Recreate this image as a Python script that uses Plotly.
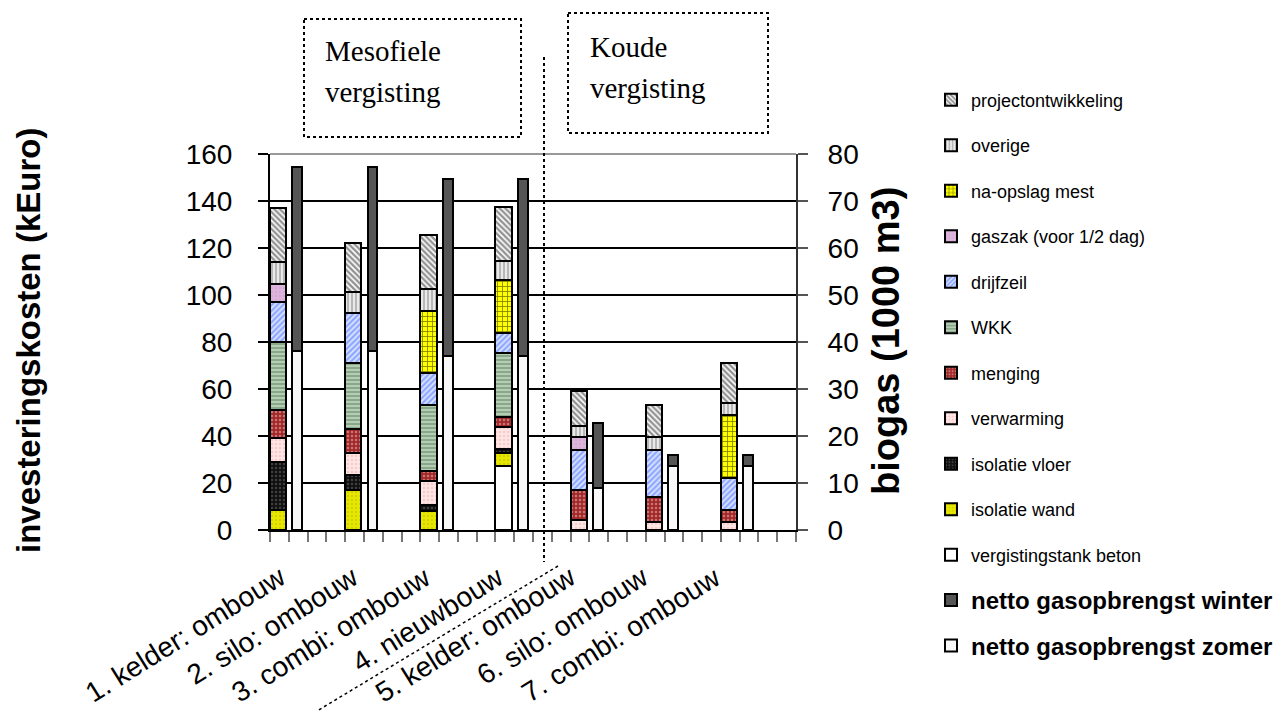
import plotly.graph_objects as go

# --- data -------------------------------------------------------------
groups = ["1. kelder: ombouw", "2. silo: ombouw", "3. combi: ombouw",
          "4. nieuwbouw", "5. kelder: ombouw", "6. silo: ombouw",
          "7. combi: ombouw"]

# investment cost components (kEuro), bottom to top of each stack
vergistingstank_beton = [0, 0, 0, 27.4, 0, 0, 0]
isolatie_wand = [8.5, 17.2, 8.0, 5.2, 0, 0, 0]
isolatie_vloer = [20.5, 6.2, 2.8, 1.9, 0, 0, 0]
verwarming = [10.2, 9.2, 9.9, 9.2, 4.3, 3.5, 3.5]
menging = [11.8, 10.4, 4.3, 4.2, 12.9, 10.7, 5.2]
wkk = [29.1, 27.9, 28.2, 27.3, 0, 0, 0]
drijfzeil = [17.0, 21.4, 13.5, 8.5, 17.0, 19.8, 13.6]
gaszak = [7.4, 0, 0, 0, 5.2, 0, 0]
na_opslag_mest = [0, 0, 26.3, 22.8, 0, 0, 26.6]
overige = [9.5, 8.8, 9.6, 7.8, 5.0, 5.4, 5.0]
projectontwikkeling = [23.1, 20.9, 22.9, 23.3, 14.6, 13.6, 17.0]

# net biogas yield (1000 m3), stacked: summer part + winter part
gas_zomer = [38.0, 38.0, 37.1, 37.1, 8.9, 13.7, 13.7]
gas_winter = [39.2, 39.2, 37.6, 37.6, 13.8, 2.3, 2.3]

cost_ticks = [0, 20, 40, 60, 80, 100, 120, 140, 160]
gas_ticks = [0, 10, 20, 30, 40, 50, 60, 70, 80]

# --- geometry ---------------------------------------------------------
W, H = 1286, 713
L, R, T, B = 270, 796, 154, 530          # plot area in pixels
n_slots = 28                              # 7 groups x 4 slots
cost_x = [1 + 4 * i for i in range(len(groups))]
gas_x = [2 + 4 * i for i in range(len(groups))]


def px(x):
    return (x - L) / (R - L)


def py(y):
    return (B - y) / (B - T)


def nz(vals):
    return [v if v else None for v in vals]


SANS = "Liberation Sans, Arial, sans-serif"

cost_series = [
    ("vergistingstank beton", vergistingstank_beton, dict(color="white")),
    ("isolatie wand", isolatie_wand,
     dict(color="#e4e400", pattern=dict(shape=".", fgcolor="#b0b000", bgcolor="#e6e600", size=4, solidity=0.2))),
    ("isolatie vloer", isolatie_vloer,
     dict(color="#151515", pattern=dict(shape=".", fgcolor="#707070", bgcolor="#101010", size=4, solidity=0.3))),
    ("verwarming", verwarming,
     dict(color="#ffe0e0", pattern=dict(shape=".", fgcolor="#f0b0b0", bgcolor="#ffe6e6", size=4, solidity=0.3))),
    ("menging", menging,
     dict(color="#a83030", pattern=dict(shape=".", fgcolor="#f4c4c4", bgcolor="#a02828", size=4, solidity=0.3))),
    ("WKK", wkk,
     dict(color="#5a805a", pattern=dict(shape="-", fgcolor="#4a744a", bgcolor="#c8dcc8", size=4, solidity=0.65))),
    ("drijfzeil", drijfzeil,
     dict(color="#7090ff", pattern=dict(shape="/", fgcolor="#4068ff", bgcolor="#dfe8ff", size=4, solidity=0.6))),
    ("gaszak (voor 1/2 dag)", gaszak,
     dict(color="#dab2da", pattern=dict(shape=".", fgcolor="#c898c8", bgcolor="#dcb4dc", size=4, solidity=0.2))),
    ("na-opslag mest", na_opslag_mest,
     dict(color="#ffff00", pattern=dict(shape="+", fgcolor="#000000", bgcolor="#ffff00", size=5, solidity=0.3))),
    ("overige", overige,
     dict(color="#aaaaaa", pattern=dict(shape="|", fgcolor="#808080", bgcolor="#eeeeee", size=4, solidity=0.55))),
    ("projectontwikkeling", projectontwikkeling,
     dict(color="#888888", pattern=dict(shape="\\", fgcolor="#262626", bgcolor="#ffffff", size=4, solidity=0.6))),
]

gas_series = [
    ("netto gasopbrengst zomer", gas_zomer, dict(color="#f8f8f8")),
    ("netto gasopbrengst winter", gas_winter, dict(color="#555555")),
]

# legend rows (top to bottom) with their vertical centres in pixels
legend_order = ["projectontwikkeling", "overige", "na-opslag mest",
                "gaszak (voor 1/2 dag)", "drijfzeil", "WKK", "menging",
                "verwarming", "isolatie vloer", "isolatie wand",
                "vergistingstank beton", "netto gasopbrengst winter",
                "netto gasopbrengst zomer"]
row_y0, row_step = 100, 45.5

fig = go.Figure()
layout_legends = {}

for name, vals, style in cost_series + gas_series:
    is_gas = name.startswith("netto")
    row = legend_order.index(name)
    lg = "legend" if row == 0 else f"legend{row + 1}"
    marker = dict(style)
    marker["line"] = dict(color="black", width=2)
    fig.add_trace(go.Bar(
        x=gas_x if is_gas else cost_x,
        y=nz(vals),
        name=("<b>" + name + "</b>") if is_gas else name,
        marker=marker,
        width=0.53 if is_gas else 0.87,
        offset=-0.31 if is_gas else -0.5,
        yaxis="y2" if is_gas else "y",
        legend=lg,
        hoverinfo="skip",
    ))
    layout_legends[lg] = dict(
        x=px(931), y=py(row_y0 + row * row_step), xanchor="left", yanchor="middle",
        bgcolor="rgba(0,0,0,0)", borderwidth=0,
        font=dict(family=SANS, size=24 if is_gas else 18, color="black"),
    )

fig.update_layout(**layout_legends)

tick_font = dict(family=SANS, size=28, color="black")

fig.update_layout(
    width=W, height=H, autosize=False,
    margin=dict(l=L, r=W - R, t=T, b=H - B, pad=0, autoexpand=False),
    paper_bgcolor="white", plot_bgcolor="white",
    barmode="stack", showlegend=True,
    xaxis=dict(
        range=[0.5, n_slots + 0.5], tickvals=[i + 0.5 for i in range(n_slots + 1)],
        showticklabels=False, ticks="outside", ticklen=10, tickwidth=2, tickcolor="#777777",
        showline=True, linecolor="black", linewidth=2, showgrid=False, zeroline=False,
        automargin=False,
    ),
    yaxis=dict(
        range=[0, 160], tickvals=cost_ticks, tickfont=tick_font,
        ticks="outside", ticklen=10, tickwidth=1.5, tickcolor="black",
        ticklabelstandoff=20, automargin=False,
        showgrid=True, gridcolor="black", gridwidth=1.5,
        showline=True, linecolor="black", linewidth=2, zeroline=False,
    ),
    yaxis2=dict(
        range=[0, 80], tickvals=gas_ticks, tickfont=tick_font, overlaying="y", side="right",
        ticks="outside", ticklen=10, tickwidth=1.5, tickcolor="#555555",
        ticklabelstandoff=14, automargin=False,
        showgrid=False, showline=True, linecolor="#333333", linewidth=2, zeroline=False,
    ),
)

shapes = [
    # grey top border of the plot area
    dict(type="line", xref="paper", yref="paper", x0=0, x1=1, y0=1, y1=1,
         line=dict(color="#999999", width=2)),
    # separator between the two digestion types
    dict(type="line", xref="paper", yref="paper", x0=px(544), x1=px(544), y0=py(57), y1=py(562),
         line=dict(color="black", width=2, dash="dot")),
    dict(type="line", xref="paper", yref="paper", x0=px(558), x1=px(317), y0=py(566), y1=py(711),
         line=dict(color="black", width=1.5, dash="dot")),
    # boxes around the group titles
    dict(type="rect", xref="paper", yref="paper", x0=px(304), x1=px(521), y0=py(19), y1=py(137),
         line=dict(color="black", width=2, dash="dot")),
    dict(type="rect", xref="paper", yref="paper", x0=px(568), x1=px(768), y0=py(13), y1=py(133),
         line=dict(color="black", width=2, dash="dot")),
]
fig.update_layout(shapes=shapes)

serif = dict(family="Liberation Serif, Times New Roman, serif", size=29, color="black")


def title_line(text, x, y):
    return dict(text=text, x=px(x), y=py(y), xref="paper", yref="paper",
                xanchor="left", yanchor="middle", showarrow=False, font=serif)


annotations = [
    title_line("Mesofiele", 323, 51),
    title_line("vergisting", 323, 92),
    title_line("Koude", 588, 47),
    title_line("vergisting", 588, 88),
    dict(text="<b>investeringskosten (kEuro)</b>", x=px(28), y=py(341), xref="paper", yref="paper",
         xanchor="center", yanchor="middle", textangle=-90, showarrow=False,
         font=dict(family=SANS, size=33, color="black")),
    dict(text="<b>biogas (1000 m3)</b>", x=px(886), y=py(341), xref="paper", yref="paper",
         xanchor="center", yanchor="middle", textangle=-90, showarrow=False,
         font=dict(family=SANS, size=38, color="black")),
]

# slanted category labels, their upper-right ends stepping along the axis
for i, label in enumerate(groups):
    annotations.append(dict(
        text=label, x=px(294 + 72.5 * i), y=py(558), xref="paper", yref="paper",
        xanchor="right", yanchor="top", textangle=-32, showarrow=False,
        font=dict(family=SANS, size=28, color="black"),
    ))

fig.update_layout(annotations=annotations)

fig.write_html("out.html")
